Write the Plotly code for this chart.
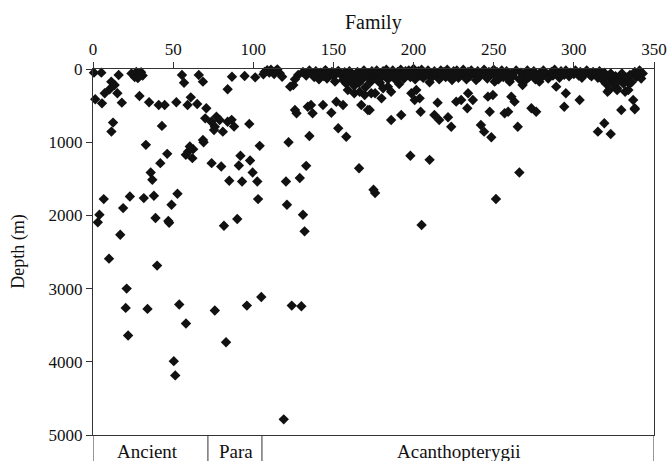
import plotly.graph_objects as go

# ---- data (family index, depth in m) ----
ancient_family = [0.6, 5.2, 16, 24, 26, 27, 28, 29, 30, 31,
                  11.4, 13.5, 10.4, 7.3, 1.4, 5.6, 15.2, 18, 29, 35, 41, 44.7, 52,
                  55.5, 56.8, 66, 68.6, 59, 61, 65, 70.7, 70,
                  12.5, 11.5, 43, 68.6, 33, 46.3, 42, 36, 37, 69,
                  59.4, 60.4, 62.5, 57.9, 62,
                  6.7, 23, 31.7, 38, 18.8, 52.7, 49, 4, 3, 17, 10, 39, 47, 47.5, 40,
                  21, 20.4, 34, 53.8, 58, 21.9, 50.4, 51.3]
ancient_depth = [50, 50, 82, 60, 110, 40, 125, 70, 45, 90,
                 173, 218, 277, 332, 414, 469, 332, 460, 369, 455, 492, 492, 455,
                 82, 187, 82, 173, 492, 387, 478, 537, 674,
                 732, 855, 777, 970, 1036, 1159, 1286, 1414, 1514, 1000,
                 1127, 1059, 1095, 1173, 1218,
                 1777, 1741, 1764, 1732, 1900, 1705, 1855, 1991, 2095, 2264, 2591, 2036, 2077, 2100, 2686,
                 3000, 3264, 3277, 3218, 3477, 3641, 3991, 4186]

para_family = [73.8, 77, 76, 79, 75.5, 81, 84, 86.5, 88, 97.5, 84, 74, 80,
               86.7, 94.6, 101.2, 92, 91, 98, 99.6, 85, 93, 102.5, 104, 103,
               81.7, 90, 76, 96, 105, 83]
para_depth = [720, 651, 788, 697, 833, 856, 720, 695, 786, 750, 277, 1286, 1332,
              105, 96, 114, 1186, 1318, 1250, 1414, 1527, 1536, 1536, 1050, 1777,
              2141, 2050, 3300, 3232, 3114, 3732]

acanth_family = [106.3, 108.7, 110, 112, 114, 116.5, 118, 107, 111, 113, 115,
                 128, 126, 123, 125,
                 126, 127, 134, 137, 136, 143.5, 148.7, 151.8, 156, 167.4, 171.5,
                 135, 153, 122, 158, 133, 120.4, 129, 166, 175, 176,
                 119, 124, 130, 121, 131, 132, 251.4, 205, 198, 210, 266,
                 159, 163, 166.4, 169.5, 173.6,
                 172.6, 179, 181, 184, 186, 180, 176, 191, 190, 198.6, 201.7, 203.8,
                 200.7, 210, 211, 215, 226.6, 229.7, 234, 237, 233.5, 246.4, 249.5,
                 247.5, 250.6, 256.8, 186, 192.3, 204.4, 213, 216, 221.5, 223.5,
                 242, 244, 248.5, 260, 261, 263, 259, 273.5, 276.5, 265, 295, 303.6,
                 294, 337, 338, 329.6, 319, 315, 323, 321, 327, 332, 334.6, 329.6,
                 268, 270, 278.5, 289, 322, 327, 334, 338,
                 131, 133, 135, 137, 138, 139, 140, 141, 142, 144, 145, 146, 147, 149,
                 150, 151, 152, 153, 155, 156, 157, 158, 159, 160, 161, 162, 163, 164,
                 165, 166, 167, 168, 169, 170, 171, 172, 173, 174, 175, 176, 177, 178,
                 179, 180, 181, 182, 183, 184, 185, 186, 187, 188, 189, 190, 191, 192,
                 193, 194, 195, 196, 197, 198, 199, 200, 201, 202, 203, 204, 205, 206,
                 207, 208, 209, 210, 212, 213, 214, 216, 217, 218, 219, 220, 221, 222,
                 224, 225, 226, 227, 228, 230, 231, 232, 233, 234, 235, 236, 238, 239,
                 240, 241, 242, 244, 245, 246, 247, 248, 250, 251, 252, 253, 254, 255,
                 256, 257, 258, 259, 261, 262, 264, 266, 267, 269, 271, 272, 273, 275,
                 276, 277, 279, 280, 281, 283, 284, 286, 287, 288, 290, 291, 292, 294,
                 295, 297, 298, 300, 301, 303, 304, 305, 307, 308, 310, 311, 312, 314,
                 315, 316, 317, 318, 319, 320, 322, 323, 324, 325, 326, 328, 330, 331,
                 333, 335, 336, 338, 339, 340, 341, 342, 343]
acanth_depth = [73, 18, 50, 36, 27, 59, 105, 40, 10, 70, 5,
                82, 141, 241, 220,
                559, 605, 515, 605, 492, 492, 597, 447, 492, 492, 560,
                915, 810, 1000, 925, 1323, 1536, 1490, 1355, 1650, 1695,
                4786, 3232, 3241, 1855, 1991, 2218, 1776, 2131, 1186, 1241, 1414,
                287, 332, 310, 355, 332,
                560, 187, 264, 241, 310, 401, 332, 205, 114, 332, 287, 401,
                423, 182, 114, 460, 446, 423, 332, 423, 537, 378, 355,
                583, 173, 605, 697, 628, 583, 628, 697, 660, 788,
                765, 856, 933, 173, 378, 446, 583, 537, 583, 788, 332, 423,
                515, 423, 551, 560, 742, 856, 888, 310, 264, 310, 196, 128,
                218, 150, 173, 241, 286, 286, 286, 536,
                40, 90, 20, 60, 110, 30, 75, 140, 50, 95, 15, 130, 60, 40,
                100, 170, 55, 25, 85, 150, 45, 200, 110, 30, 160, 70, 230, 120,
                40, 190, 90, 140, 20, 250, 100, 60, 180, 30, 120, 80, 20, 160,
                60, 110, 30, 90, 10, 140, 50, 100, 20, 70, 150, 40, 90, 10,
                60, 130, 30, 80, 20, 110, 50, 0, 140, 70, 30, 90, 10, 120,
                50, 80, 20, 60, 100, 30, 70, 140, 20, 80, 40, 110, 10, 60,
                150, 30, 90, 20, 120, 60, 10, 80, 140, 40, 100, 20, 70, 150,
                30, 110, 60, 10, 90, 130, 40, 70, 10, 100, 40, 140, 60, 20,
                110, 80, 30, 130, 60, 100, 20, 140, 50, 90, 20, 110, 60, 30,
                140, 80, 50, 110, 20, 70, 130, 40, 90, 10, 60, 120, 30, 80,
                20, 100, 50, 70, 20, 90, 40, 120, 60, 20, 80, 100, 40, 60,
                120, 30, 90, 150, 50, 200, 110, 60, 170, 220, 100, 150, 60, 200,
                120, 80, 180, 40, 110, 70, 20, 130, 60]

group_labels = ["Ancient", "Para", "Acanthopterygii"]
group_bounds = [0, 71.7, 105.4, 350]
group_label_x = [34.3, 89, 228]
x_ticks = [0, 50, 100, 150, 200, 250, 300, 350]
y_ticks = [0, 1000, 2000, 3000, 4000, 5000]

FONT = "Liberation Serif, Times New Roman, serif"
marker = dict(symbol="diamond", size=8, color="#111111", line=dict(width=0))

fig = go.Figure()
for fx, dy in [(ancient_family, ancient_depth), (para_family, para_depth),
               (acanth_family, acanth_depth)]:
    fig.add_trace(go.Scatter(x=fx, y=dy, mode="markers", marker=marker,
                             cliponaxis=False, showlegend=False, hoverinfo="x+y"))

fig.update_layout(
    width=672, height=461,
    margin=dict(l=93, r=18, t=69, b=26, autoexpand=False),
    paper_bgcolor="white", plot_bgcolor="white",
    font=dict(family=FONT, size=17, color="#111111"),
    xaxis=dict(side="top", range=[0, 350], tickvals=x_ticks, ticks="outside",
               ticklen=6, tickcolor="#333", showline=True, linecolor="#333",
               linewidth=1, mirror=True, showgrid=False, zeroline=False,
               automargin=False, tickfont=dict(size=17)),
    yaxis=dict(range=[5000, 0], tickvals=y_ticks, ticks="outside", ticklen=6,
               tickcolor="#333", showline=True, linecolor="#333", linewidth=1,
               mirror=True, showgrid=False, zeroline=False, automargin=False,
               tickfont=dict(size=17)),
)

# axis titles
fig.add_annotation(text="Family", xref="paper", yref="paper", x=0.5, y=1.128,
                   xanchor="center", yanchor="middle",
                   showarrow=False, font=dict(size=20, family=FONT))
fig.add_annotation(text="Depth (m)", xref="paper", yref="paper", x=-0.134, y=0.5,
                   xanchor="center", yanchor="middle",
                   textangle=-90, showarrow=False, font=dict(size=18, family=FONT))

# group band below the plot
for b in group_bounds:
    fig.add_shape(type="line", xref="x", yref="paper", x0=b, x1=b, y0=0, y1=-0.09,
                  line=dict(color="#333", width=1))
for lab, gx in zip(group_labels, group_label_x):
    fig.add_annotation(x=gx, y=0, xref="x", yref="paper", yshift=-16, text=lab,
                       xanchor="center", yanchor="middle",
                       showarrow=False, font=dict(size=19, family=FONT))

fig.write_html("out.html", config={"displayModeBar": False},
               post_script="document.body.style.margin='0px';document.body.style.overflow='hidden';")
